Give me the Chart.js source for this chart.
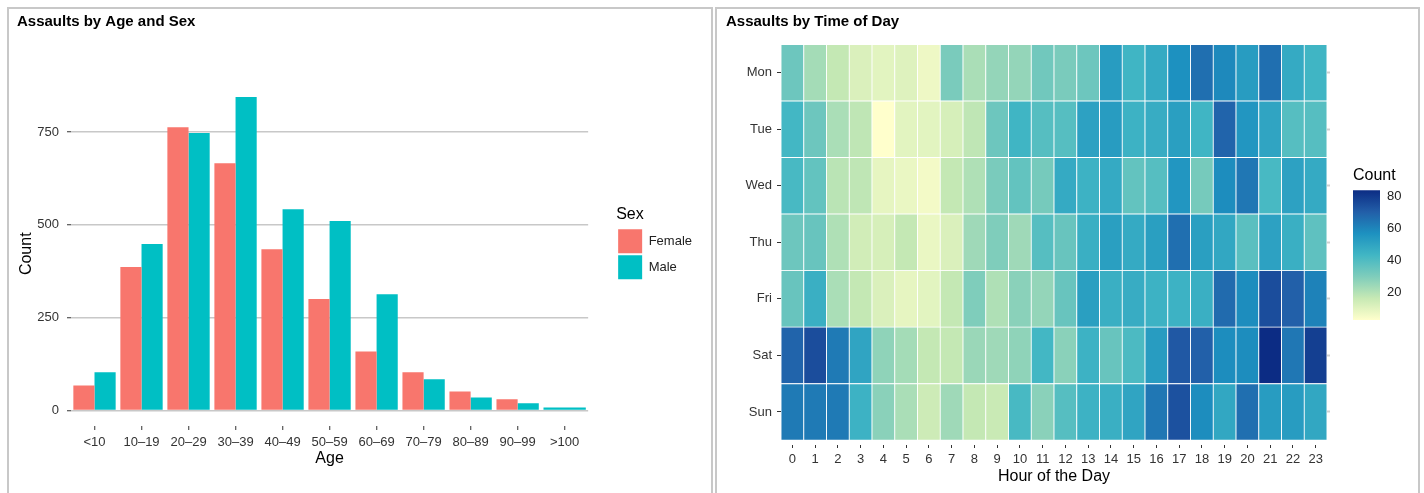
<!DOCTYPE html>
<html>
<head>
<meta charset="utf-8">
<script src="https://cdn.jsdelivr.net/npm/chart.js@4.4.1/dist/chart.umd.min.js"></script>
<style>
  body { margin: 0; background: #fff; overflow: hidden; }
  .panel { position: absolute; top: 7px; height: 500px; border: 2px solid #c8c8c8; box-sizing: border-box; }
  canvas { position: absolute; }
</style>
</head>
<body>
<div class="panel" style="left:7px;width:706px"></div>
<div class="panel" style="left:715px;width:705px"></div>
<canvas id="ageChart" width="702" height="484" style="left:9px;top:9px"></canvas>
<canvas id="hourChart" width="701" height="484" style="left:717px;top:9px"></canvas>
<canvas id="scaleChart" width="80" height="175" style="left:1340px;top:160px"></canvas>
<script>
// age / sex bars
var ageGroups = ['<10', '10–19', '20–29', '30–39', '40–49', '50–59', '60–69', '70–79', '80–89', '90–99', '>100'];
var female = [67, 386, 763, 666, 434, 300, 159, 103, 51, 30, null];
var male = [103, 448, 747, 844, 542, 510, 313, 84, 35, 19, 8];
var countTicks = [0, 250, 500, 750];

// time of day heatmap, one array per weekday, hours 0..23
var hours = ['0','1','2','3','4','5','6','7','8','9','10','11','12','13','14','15','16','17','18','19','20','21','22','23'];
var days = ['Mon', 'Tue', 'Wed', 'Thu', 'Fri', 'Sat', 'Sun'];
var mon = [34, 23, 17, 12, 10, 11, 7, 31, 22, 26, 26, 33, 31, 34, 53, 44, 48, 57, 66, 59, 53, 66, 48, 44];
var tue = [43, 34, 22, 18, 3, 10, 10, 13, 18, 34, 44, 39, 39, 51, 53, 45, 47, 52, 44, 69, 55, 50, 39, 39];
var wed = [42, 36, 19, 18, 9, 8, 6, 17, 21, 31, 36, 32, 48, 45, 48, 36, 39, 55, 32, 58, 64, 42, 51, 48];
var thu = [34, 35, 21, 14, 13, 17, 8, 12, 24, 30, 24, 39, 35, 46, 52, 48, 52, 66, 52, 49, 38, 51, 46, 37];
var fri = [35, 46, 22, 17, 12, 9, 10, 17, 30, 21, 28, 26, 35, 52, 46, 47, 45, 45, 46, 67, 58, 75, 70, 61];
var sat = [69, 75, 63, 50, 27, 23, 17, 17, 25, 24, 27, 43, 28, 45, 35, 41, 53, 72, 70, 58, 58, 84, 64, 79];
var sun = [63, 63, 63, 45, 28, 22, 15, 24, 17, 16, 42, 28, 39, 45, 46, 50, 64, 74, 58, 49, 66, 53, 53, 49];
var scaleTicks = [20, 40, 60, 80];

var counts = [mon, tue, wed, thu, fri, sat, sun];
var allCounts = [].concat.apply([], counts);
var countMin = Math.min.apply(null, allCounts);
var countMax = Math.max.apply(null, allCounts);

// YlGnBu, 7 classes
var palette = ['#ffffcc', '#c7e9b4', '#7fcdbb', '#41b6c4', '#1d91c0', '#225ea8', '#0c2c84'];

function hexRgb(h) {
  return [parseInt(h.substr(1, 2), 16), parseInt(h.substr(3, 2), 16), parseInt(h.substr(5, 2), 16)];
}
function colorFor(v) {
  var t = (v - countMin) / (countMax - countMin) * (palette.length - 1);
  var i = Math.min(Math.floor(t), palette.length - 2);
  var f = t - i;
  var a = hexRgb(palette[i]), b = hexRgb(palette[i + 1]);
  var c = a.map(function (x, k) { return Math.round(x + (b[k] - x) * f); });
  return 'rgb(' + c.join(',') + ')';
}

Chart.defaults.font.family = "'Liberation Sans', Arial, Helvetica, sans-serif";
Chart.defaults.animation = false;
Chart.defaults.plugins.tooltip.enabled = false;

new Chart('ageChart', {
  type: 'bar',
  data: {
    labels: ageGroups,
    datasets: [
      { label: 'Female', data: female, backgroundColor: '#F8766D' },
      { label: 'Male', data: male, backgroundColor: '#00BFC4' }
    ]
  },
  options: {
    responsive: false,
    devicePixelRatio: 1,
    layout: { padding: { left: 8, right: 9, top: 0, bottom: 25 } },
    datasets: { bar: { categoryPercentage: 0.9, barPercentage: 1.0, skipNull: true } },
    plugins: {
      title: { display: true, text: 'Assaults by Age and Sex', align: 'start', color: '#000',
        font: { size: 15, weight: 'bold' }, padding: { top: 3.5, bottom: 51 } },
      legend: {
        position: 'right',
        title: { display: true, text: 'Sex', position: 'start', color: '#000', font: { size: 16 }, padding: { top: 10.5, bottom: 2 } },
        labels: { boxWidth: 24, boxHeight: 24, padding: 2, color: '#222', font: { size: 13 } }
      }
    },
    scales: {
      x: {
        offset: true,
        grid: { offset: false, color: '#ffffff', lineWidth: 1.5, tickLength: 4, tickColor: '#333', tickWidth: 1 },
        border: { display: false },
        ticks: { color: '#333', font: { size: 13 }, padding: 5, maxRotation: 0, autoSkip: false },
        title: { display: true, text: 'Age', color: '#000', font: { size: 16 }, padding: 0 },
        afterFit: function (s) { s.height = 42; }
      },
      y: {
        min: -42, max: 886, z: -1,
        afterBuildTicks: function (s) { s.ticks = countTicks.map(function (v) { return { value: v }; }); },
        grid: { color: '#c8c8c8', lineWidth: 1.5, tickLength: 9, tickColor: '#333', tickWidth: 1, tickBorderDash: [0, 5, 4, 20] },
        border: { display: false },
        ticks: { color: '#333', font: { size: 13 }, padding: 3 },
        title: { display: true, text: 'Count', color: '#000', font: { size: 16 }, padding: 0 },
        afterFit: function (s) { s.width = 54; }
      },
      gap: {
        position: 'right', display: true,
        grid: { display: false }, border: { display: false }, ticks: { display: false },
        afterFit: function (s) { s.width = 28; }
      }
    }
  }
});

var halfRows = days.map(function (d, i) { return 6.5 - i; });

new Chart('hourChart', {
  type: 'bar',
  data: {
    labels: hours,
    datasets: days.slice().reverse().map(function (d, k) {
      var row = counts[days.length - 1 - k];
      return {
        label: d,
        data: row.map(function () { return 1; }),
        backgroundColor: row.map(colorFor),
        borderColor: '#ffffff',
        borderWidth: 0.8,
        borderSkipped: false
      };
    })
  },
  options: {
    responsive: false,
    devicePixelRatio: 1,
    layout: { padding: { left: 9, right: 88, top: 0, bottom: 6.4 } },
    datasets: { bar: { categoryPercentage: 1, barPercentage: 1 } },
    plugins: {
      title: { display: true, text: 'Assaults by Time of Day', align: 'start', color: '#000',
        font: { size: 15, weight: 'bold' }, padding: { top: 3.5, bottom: 14 } },
      legend: { display: false }
    },
    scales: {
      x: {
        stacked: true,
        grid: { offset: false, drawOnChartArea: false, tickLength: 8, tickColor: '#333', tickWidth: 1, tickBorderDash: [0, 5, 3, 20] },
        border: { display: false },
        ticks: { color: '#333', font: { size: 13 }, padding: 3, maxRotation: 0, autoSkip: false },
        title: { display: true, text: 'Hour of the Day', color: '#000', font: { size: 16 }, padding: 0 },
        afterFit: function (s) { s.height = 46.4; }
      },
      y: {
        stacked: true, min: 0, max: 7,
        afterBuildTicks: function (s) { s.ticks = halfRows.map(function (v) { return { value: v }; }); },
        grid: { drawOnChartArea: false, tickLength: 4, tickColor: '#333', tickWidth: 1 },
        border: { display: false },
        ticks: { color: '#333', font: { size: 13 }, padding: 5,
          callback: function (v) { return days[Math.round(6.5 - v)]; } },
        afterFit: function (s) { s.width = 55; }
      },
      yr: {
        position: 'right', min: 0, max: 7,
        afterBuildTicks: function (s) { s.ticks = halfRows.map(function (v) { return { value: v }; }); },
        grid: { drawOnChartArea: false, tickLength: 3, tickColor: '#d0d0d0', tickWidth: 2 },
        border: { display: false },
        ticks: { display: false },
        afterFit: function (s) { s.width = 3; }
      }
    }
  }
});

new Chart('scaleChart', {
  type: 'bar',
  data: {
    labels: [''],
    datasets: [{
      data: [[countMin, countMax]],
      backgroundColor: function (ctx) {
        var chart = ctx.chart;
        if (!chart.chartArea) return palette[3];
        var y = chart.scales.y;
        var g = chart.ctx.createLinearGradient(0, y.getPixelForValue(countMin), 0, y.getPixelForValue(countMax));
        palette.forEach(function (c, i) { g.addColorStop(i / (palette.length - 1), c); });
        return g;
      },
      categoryPercentage: 1,
      barPercentage: 1
    }]
  },
  options: {
    responsive: false,
    devicePixelRatio: 1,
    layout: { padding: { left: 13, right: 0, top: 0, bottom: 15 } },
    plugins: {
      title: { display: true, text: 'Count', align: 'start', color: '#000', font: { size: 16, weight: 'normal' }, padding: { top: 6, bottom: 5 } },
      legend: { display: false }
    },
    scales: {
      x: { display: false },
      y: {
        position: 'right', min: countMin, max: countMax, z: 1,
        afterBuildTicks: function (s) { s.ticks = scaleTicks.map(function (v) { return { value: v }; }); },
        grid: { color: 'rgba(255,255,255,0.9)', lineWidth: 1, drawTicks: false, borderDash: [5.4, 16.2] },
        border: { display: false },
        ticks: { color: '#222', font: { size: 13 }, padding: 7 },
        afterFit: function (s) { s.width = 40; }
      }
    }
  }
});
</script>
</body>
</html>
